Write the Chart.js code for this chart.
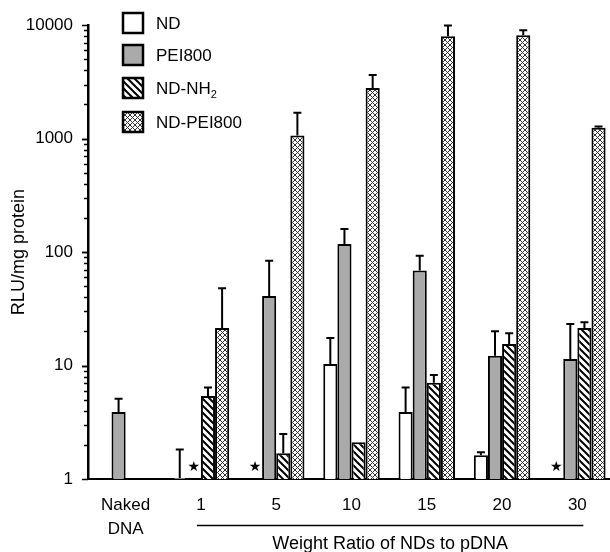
<!DOCTYPE html>
<html>
<head>
<meta charset="UTF-8">
<title>RLU/mg protein vs weight ratio</title>
<script src="https://cdn.jsdelivr.net/npm/chart.js@4.4.0/dist/chart.umd.min.js"></script>
<style>
  * { margin: 0; padding: 0; box-sizing: border-box; }
  body { background: #fff; width: 610px; height: 552px; overflow: hidden; }
  #wrap { width: 610px; height: 552px; overflow: hidden; position: relative; }
  canvas { display: block; }
</style>
</head>
<body>
<div id="wrap"><canvas id="chart" width="616" height="552"></canvas></div>
<script>
// categories (x axis)
const categories = [['Naked', 'DNA'], '1', '5', '10', '15', '20', '30'];
const yTicks = [1, 10, 100, 1000, 10000];

// bar values, RLU/mg protein (null = no bar)
const ndValues     = [null, 1.02, null, 10.3, 3.9, 1.62, null];
const peiValues    = [3.9, null, 41, 118, 69, 12.2, 11.4];
const nh2Values    = [null, 5.4, 1.69, 2.11, 7.06, 15.5, 21.4];
const ndPeiValues  = [null, 21.4, 1064, 2800, 7980, 8140, 1250];

// upper error bar (added on top of value)
const ndErr     = [null, 0.8, null, 7.2, 2.5, 0.1, null];
const peiErr    = [1.2, null, 43, 42, 24, 7.9, 11.8];
const nh2Err    = [null, 1.0, 0.8, 0, 1.2, 3.8, 2.7];
const ndPeiErr  = [null, 26.5, 630, 840, 1980, 870, 30];

// asterisks: [category index, dataset index]
const starMarks = [[1, 1], [2, 0], [6, 0]];
const starLevel = 1.27;

const FONT = "'Liberation Sans', Arial, sans-serif";

function makePattern(kind) {
  const c = document.createElement('canvas');
  const s = kind === 'stripe' ? 7 : 5;
  c.width = s; c.height = s;
  const g = c.getContext('2d');
  g.fillStyle = '#fff';
  g.fillRect(0, 0, s, s);
  g.strokeStyle = kind === 'stripe' ? '#000' : '#333';
  g.lineWidth = kind === 'stripe' ? 2 : 1;
  const seg = (x1, y1, x2, y2) => { g.beginPath(); g.moveTo(x1, y1); g.lineTo(x2, y2); g.stroke(); };
  // "\" lines
  seg(-1, -1, s + 1, s + 1);
  seg(-1, s - 1, 1, s + 1);
  seg(s - 1, -1, s + 1, 1);
  if (kind === 'cross') {
    // "/" lines
    seg(-1, s + 1, s + 1, -1);
    seg(-1, 1, 1, -1);
    seg(s - 1, s + 1, s + 1, s - 1);
  }
  return g.createPattern(c, 'repeat');
}

const ctx0 = document.getElementById('chart').getContext('2d');
const stripe = makePattern('stripe');
const cross = makePattern('cross');

const errors = [ndErr, peiErr, nh2Err, ndPeiErr];

const overlay = {
  id: 'overlay',
  afterDatasetsDraw(chart) {
    const { ctx, scales: { x, y } } = chart;
    ctx.save();
    // error bars (upper only)
    ctx.strokeStyle = '#000';
    ctx.lineWidth = 2;
    chart.data.datasets.forEach((ds, di) => {
      const meta = chart.getDatasetMeta(di);
      ds.data.forEach((v, i) => {
        const e = errors[di][i];
        if (v == null || !e) return;
        const bar = meta.data[i];
        const px = bar.x;
        const y0 = y.getPixelForValue(v);
        const y1 = y.getPixelForValue(v + e);
        ctx.beginPath();
        ctx.moveTo(px, y0);
        ctx.lineTo(px, y1);
        ctx.moveTo(px - 4, y1);
        ctx.lineTo(px + 4, y1);
        ctx.stroke();
      });
    });
    // asterisks
    ctx.fillStyle = '#000';
    ctx.font = "14px 'DejaVu Sans', sans-serif";
    ctx.textAlign = 'center';
    ctx.textBaseline = 'middle';
    starMarks.forEach(([ci, di]) => {
      const bar = chart.getDatasetMeta(di).data[ci];
      ctx.fillText('\u2605', bar.x, y.getPixelForValue(starLevel));
    });
    ctx.restore();
  },
  afterDraw(chart) {
    const { ctx, scales: { x, y }, chartArea } = chart;
    ctx.save();
    // y axis tick marks (major + minor, left side)
    ctx.strokeStyle = '#000';
    ctx.lineWidth = 1.5;
    for (let d = 0; d < 4; d++) {
      for (let k = 1; k <= 10; k++) {
        const v = k * Math.pow(10, d);
        const py = Math.round(y.getPixelForValue(v)) + 0.5;
        const len = (k === 1 || k === 10) ? 6 : 4;
        ctx.beginPath();
        ctx.moveTo(chartArea.left - len, py);
        ctx.lineTo(chartArea.left, py);
        ctx.stroke();
      }
    }
    // legend
    const items = [
      { label: 'ND', fill: '#fff' },
      { label: 'PEI800', fill: '#aaa' },
      { label: 'ND-NH', sub: '2', fill: stripe },
      { label: 'ND-PEI800', fill: cross }
    ];
    const tops = [13, 45, 78, 112];
    items.forEach((it, i) => {
      const bx = 123, by = tops[i], bs = 20;
      ctx.fillStyle = it.fill;
      ctx.fillRect(bx, by, bs, bs);
      ctx.lineWidth = 2.5;
      ctx.strokeStyle = '#000';
      ctx.strokeRect(bx, by, bs, bs);
      ctx.fillStyle = '#000';
      ctx.font = '17px ' + FONT;
      ctx.textAlign = 'left';
      ctx.textBaseline = 'middle';
      ctx.fillText(it.label, 156, by + bs / 2 + 1);
      if (it.sub) {
        const w = ctx.measureText(it.label).width;
        ctx.font = '11px ' + FONT;
        ctx.fillText(it.sub, 156 + w, by + bs / 2 + 7);
      }
    });
    // group underline + x title
    const x1 = x.getPixelForValue(1) - 4;
    const x2 = x.getPixelForValue(6) + 6;
    ctx.lineWidth = 1.5;
    ctx.beginPath();
    ctx.moveTo(x1, 525.5);
    ctx.lineTo(x2, 525.5);
    ctx.stroke();
    ctx.font = '18px ' + FONT;
    ctx.textAlign = 'center';
    ctx.textBaseline = 'middle';
    ctx.fillText('Weight Ratio of NDs to pDNA', (x1 + x2) / 2, 544);
    ctx.restore();
  }
};

new Chart(ctx0, {
  type: 'bar',
  data: {
    labels: categories,
    datasets: [
      { label: 'ND', data: ndValues, backgroundColor: '#fff' },
      { label: 'PEI800', data: peiValues, backgroundColor: '#aaa' },
      { label: 'ND-NH2', data: nh2Values, backgroundColor: stripe },
      { label: 'ND-PEI800', data: ndPeiValues, backgroundColor: cross }
    ]
  },
  options: {
    responsive: false,
    animation: false,
    layout: { padding: { top: 22, right: 1, left: 0, bottom: 0 } },
    datasets: {
      bar: {
        borderColor: '#000',
        borderWidth: 2,
        categoryPercentage: 0.75,
        barPercentage: 1
      }
    },
    plugins: {
      legend: { display: false },
      tooltip: { enabled: false }
    },
    scales: {
      x: {
        grid: { display: false, drawTicks: false },
        border: { display: true, color: '#000', width: 2 },
        ticks: {
          color: '#000',
          font: { family: FONT, size: 17, lineHeight: 1.38 },
          padding: 15,
          maxRotation: 0,
          autoSkip: false
        },
        afterFit(s) { s.height = 73; }
      },
      y: {
        type: 'logarithmic',
        min: 1,
        max: 10000,
        grid: { display: true, drawOnChartArea: false, drawTicks: false },
        border: { display: true, color: '#000', width: 2.5 },
        afterBuildTicks(s) { s.ticks = yTicks.map(v => ({ value: v })); },
        ticks: {
          color: '#000',
          font: { family: FONT, size: 17 },
          padding: 15,
          autoSkip: false,
          callback: v => String(v)
        },
        title: {
          display: true,
          text: 'RLU/mg protein',
          color: '#000',
          font: { family: FONT, size: 18 },
          padding: { top: 8, bottom: 0 }
        },
        afterFit(s) { s.width = 88; }
      }
    }
  },
  plugins: [overlay]
});
</script>
</body>
</html>
